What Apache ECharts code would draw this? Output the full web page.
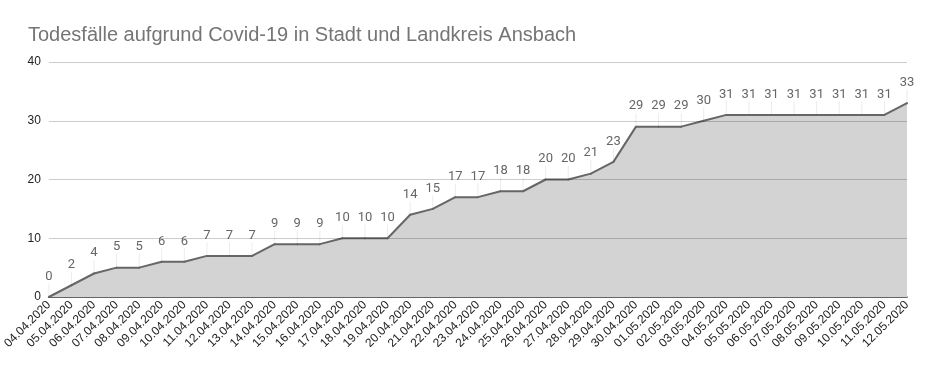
<!DOCTYPE html>
<html><head><meta charset="utf-8">
<script src="https://cdn.jsdelivr.net/npm/echarts@6/dist/echarts.min.js"></script>
<style>html,body{margin:0;padding:0;background:#fff}#c{width:925px;height:371px}</style>
</head><body><div id="c"></div>
<script>
const titleText = "Todesfälle aufgrund Covid-19 in Stadt und Landkreis Ansbach";
const categories = ["04.04.2020","05.04.2020","06.04.2020","07.04.2020","08.04.2020","09.04.2020","10.04.2020","11.04.2020","12.04.2020","13.04.2020","14.04.2020","15.04.2020","16.04.2020","17.04.2020","18.04.2020","19.04.2020","20.04.2020","21.04.2020","22.04.2020","23.04.2020","24.04.2020","25.04.2020","26.04.2020","27.04.2020","28.04.2020","29.04.2020","30.04.2020","01.05.2020","02.05.2020","03.05.2020","04.05.2020","05.05.2020","06.05.2020","07.05.2020","08.05.2020","09.05.2020","10.05.2020","11.05.2020","12.05.2020"];
const deaths = [0,2,4,5,5,6,6,7,7,7,9,9,9,10,10,10,14,15,17,17,18,18,20,20,21,23,29,29,29,30,31,31,31,31,31,31,31,31,33];
const yTicks = [0,10,20,30,40];
const leaderLength = 2.3; // leader line height in value units, from point up to the label

const chart = echarts.init(document.getElementById('c'), null, {renderer:'canvas'});
chart.setOption({
  animation:false,
  textStyle:{fontFamily:'Arial, Liberation Sans, sans-serif'},
  title:{text:titleText,left:23,top:20,textStyle:{fontSize:20,fontWeight:'normal',color:'#757575',fontFamily:'Arial, Liberation Sans, sans-serif'}},
  grid:{left:45,right:18,top:62,bottom:74},
  xAxis:{type:'category',data:categories,boundaryGap:false,
    axisLine:{lineStyle:{color:'#333',width:1.5}},axisTick:{show:false},
    axisLabel:{rotate:45,interval:0,fontSize:12,color:'#222',margin:6},
    splitLine:{show:false}},
  yAxis:{type:'value',min:yTicks[0],max:yTicks[yTicks.length-1],interval:yTicks[1]-yTicks[0],
    axisLine:{show:false},axisTick:{show:false},
    axisLabel:{fontSize:12,color:'#222',margin:8},
    splitLine:{show:false}},
  series:[
    {type:'bar',stack:'lead',data:deaths,barWidth:1,itemStyle:{color:'rgba(0,0,0,0)'},silent:true,z:1},
    {type:'bar',stack:'lead',data:deaths.map(()=>leaderLength),barWidth:1,itemStyle:{color:'#ececec'},silent:true,z:1},
    {type:'line',data:deaths,symbol:'circle',symbolSize:2,showSymbol:true,showAllSymbol:true,
    itemStyle:{color:'#666'},
    lineStyle:{color:'#666',width:2},
    areaStyle:{color:'#d3d3d3',opacity:1},
    label:{show:true,position:'top',distance:13,fontSize:13,color:'#666',fontFamily:'Roboto, Arial, sans-serif'},
    labelLayout:{hideOverlap:false},
    markLine:{silent:true,symbol:'none',label:{show:false},
      lineStyle:{color:'rgba(0,0,0,0.2)',type:'solid',width:1},
      data:yTicks.slice(1).map(v=>({yAxis:v}))},
    z:2}]
});
</script></body></html>
